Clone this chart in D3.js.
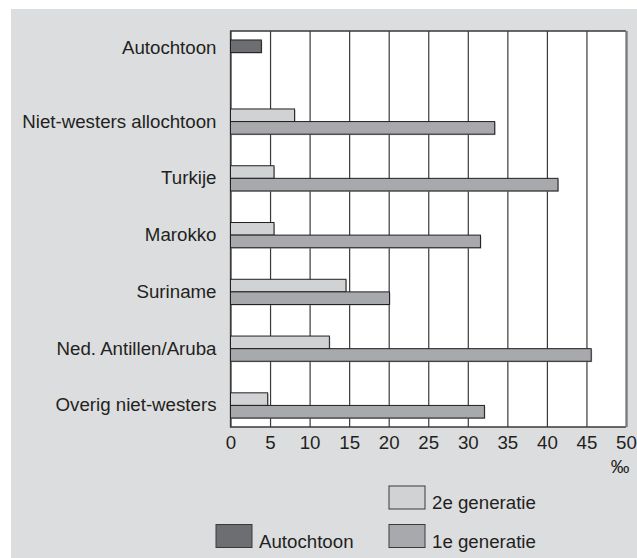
<!DOCTYPE html>
<html>
<head>
<meta charset="utf-8">
<script src="https://cdn.jsdelivr.net/npm/d3@7"></script>
<style>
  body { margin: 0; background: #fff; }
  text { font-family: "Liberation Sans", Arial, Helvetica, sans-serif; fill: #231f20; }
</style>
</head>
<body>
<div id="chart"></div>
<script>
// Data (per mille)
const groups = ["Niet-westers allochtoon", "Turkije", "Marokko", "Suriname",
                "Ned. Antillen/Aruba", "Overig niet-westers"];
const secondGen = [8.1, 5.5, 5.5, 14.6, 12.5, 4.7];
const firstGen = [33.4, 41.4, 31.6, 20.1, 45.6, 32.1];
const nativeLabel = "Autochtoon";
const nativeValue = 3.9;
const xTicks = [0, 5, 10, 15, 20, 25, 30, 35, 40, 45, 50];

const width = 637;
const height = 558;
const m = { top: 31, right: 11, bottom: 131, left: 230.5 };
const plotBottom = height - m.bottom;
const fontSize = "18.7px";

const colors = {
    bg: "#dcdddf",
    native: "#6d6e71",
    second: "#d1d2d4",
    first: "#a7a9ac",
    stroke: "#231f20"
};

const svg = d3.select("#chart").append("svg")
    .attr("width", width)
    .attr("height", height);

// Grey panel
svg.append("rect")
    .attr("x", 11).attr("y", 9)
    .attr("width", width - 11).attr("height", height - 9)
    .attr("fill", colors.bg);

// Scales
const x = d3.scaleLinear()
    .domain([0, 50])
    .range([m.left, width - m.right]);

const y = d3.scaleBand()
    .domain(groups)
    .range([100, plotBottom])
    .paddingInner(0.556)
    .paddingOuter(0.158);

const outerGap = y.step() * y.paddingOuter();
const half = y.bandwidth() / 2;

const yNative = d3.scaleBand()
    .domain([nativeLabel])
    .range([m.top + outerGap, m.top + outerGap + half]);

// Plot area
svg.append("rect")
    .attr("x", x(0)).attr("y", m.top)
    .attr("width", x(50) - x(0)).attr("height", plotBottom - m.top)
    .attr("fill", "#fff");

// Vertical grid lines
svg.append("g")
    .attr("class", "grid")
    .attr("transform", `translate(0, ${plotBottom})`)
    .call(d3.axisBottom(x).tickValues(xTicks).tickSize(-(plotBottom - m.top)).tickFormat(""))
    .call(g => g.select(".domain").remove())
    .call(g => g.selectAll("line").attr("stroke", "#3a3a3a").attr("stroke-width", 1.2));

// Frame
svg.append("path")
    .attr("d", `M${x(50)},${m.top}H${x(0)}V${plotBottom}H${x(50)}`)
    .attr("fill", "none")
    .attr("stroke", "#3a3a3a")
    .attr("stroke-width", 1.3);
svg.append("line")
    .attr("x1", x(50) + 0.5).attr("x2", x(50) + 0.5)
    .attr("y1", m.top).attr("y2", plotBottom)
    .attr("stroke", "#7a7a7a")
    .attr("stroke-width", 2.2);

// Bars
const rows = groups.map((g, i) => ({ group: g, second: secondGen[i], first: firstGen[i] }));
const bars = svg.append("g").attr("class", "bars-group");

function bar(sel, x0, y0, w, h, fill) {
    sel.append("rect")
        .attr("x", x0 + 1).attr("y", y0 + 1)
        .attr("width", w).attr("height", h)
        .attr("fill", "#9a9a9a").attr("opacity", 0.6);
    sel.append("rect")
        .attr("x", x0).attr("y", y0)
        .attr("width", w).attr("height", h)
        .attr("fill", fill)
        .attr("stroke", colors.stroke)
        .attr("stroke-width", 1);
}

rows.forEach(d => {
    bar(bars, x(0), y(d.group), x(d.second) - x(0), half, colors.second);
    bar(bars, x(0), y(d.group) + half, x(d.first) - x(0), half, colors.first);
});
bar(bars, x(0), yNative(nativeLabel), x(nativeValue) - x(0), yNative.bandwidth(), colors.native);

// Y labels
function styleLabels(g) {
    g.select(".domain").remove();
    g.selectAll("text").attr("font-size", fontSize).attr("fill", "#231f20");
}
svg.append("g")
    .attr("class", "y-axis")
    .attr("transform", `translate(${x(0)}, 0)`)
    .call(d3.axisLeft(y).tickSize(0).tickPadding(14))
    .call(styleLabels);
svg.append("g")
    .attr("class", "y-axis")
    .attr("transform", `translate(${x(0)}, 1.5)`)
    .call(d3.axisLeft(yNative).tickSize(0).tickPadding(14))
    .call(styleLabels);

// X tick labels
svg.append("g")
    .attr("class", "x-axis")
    .attr("transform", `translate(0, ${plotBottom})`)
    .call(d3.axisBottom(x).tickValues(xTicks).tickSize(0).tickPadding(8.5))
    .call(styleLabels);

svg.append("text")
    .attr("x", x(50) - 6)
    .attr("y", plotBottom + 46)
    .attr("text-anchor", "middle")
    .attr("font-size", fontSize)
    .text("‰");

// Legend
const legend = [
    { label: "2e generatie", fill: colors.second, x: 389, y: 486 },
    { label: "Autochtoon", fill: colors.native, x: 216, y: 524.5 },
    { label: "1e generatie", fill: colors.first, x: 389, y: 524.5 }
];
const lg = svg.append("g").attr("class", "legend");
legend.forEach(d => {
    lg.append("rect")
        .attr("x", d.x).attr("y", d.y)
        .attr("width", 36).attr("height", 23)
        .attr("fill", d.fill)
        .attr("stroke", "#3a3a3a")
        .attr("stroke-width", 1);
    lg.append("text")
        .attr("x", d.x + 43)
        .attr("y", d.y + 23)
        .attr("font-size", fontSize)
        .text(d.label);
});
</script>
</body>
</html>
